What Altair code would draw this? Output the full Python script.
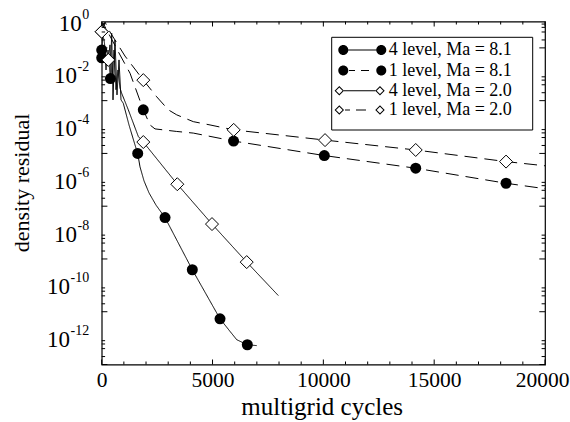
import altair as alt
import pandas as pd

FONT = "Liberation Serif"

series_names = ["4 level, Ma = 8.1", "1 level, Ma = 8.1", "4 level, Ma = 2.0", "1 level, Ma = 2.0"]

# ---- traced curves (cycles, density residual) ----
l4_81_cycles = [0, 104, 194, 284, 392, 451, 510, 600, 690, 781, 871, 975, 1232, 1502, 1624, 1728,
                1909, 2134, 2450, 2857, 4088, 5338, 5789, 6092, 6570, 6993]
l4_81_resid = [4.2e-2, 1.3e-1, 1.45e-2, 8.3e-2, 6.9e-3, 3.6e-1, 1.07e-3, 2.0e-1, 1.66e-3, 3.5e-2,
               1.07e-3, 7.9e-4, 1.2e-4, 2.1e-5, 1.0e-5, 3.1e-6, 9.1e-7, 3.2e-7, 1.1e-7, 3.7e-8,
               3.9e-10, 5.4e-12, 1.8e-12, 8.7e-13, 5.6e-13, 5.2e-13]

l1_81_cycles = [0, 59, 374, 826, 1277, 1877, 2179, 2405, 3384, 4133, 5950, 10044, 14167, 18242, 20000]
l1_81_resid = [8.3e-2, 8.7e-1, 2.8e-1, 5.4e-2, 1.1e-2, 4.5e-4, 1.2e-4, 8.5e-5, 6.8e-5, 5.9e-5,
               2.95e-5, 8.3e-6, 2.75e-6, 7.4e-7, 4.6e-7]

l4_20_cycles = [0, 104, 194, 298, 374, 465, 555, 645, 735, 826, 902, 1200, 1651, 1877, 3411, 4977,
                6542, 7968]
l4_20_resid = [4.1e-1, 2.0e-1, 5.4e-2, 3.5e-2, 1.3e-1, 6.0e-3, 8.3e-2, 2.6e-3, 1.45e-2, 3.0e-3,
               1.9e-3, 4.5e-4, 4.4e-5, 2.7e-5, 6.8e-7, 2.1e-8, 7.6e-10, 4.1e-11]

l1_20_cycles = [0, 149, 374, 1051, 1877, 2482, 3005, 3384, 4133, 4887, 5955, 10076, 14167, 18242, 20000]
l1_20_resid = [4.1e-1, 9.5e-1, 4.0e-1, 4.9e-2, 6.0e-3, 1.4e-3, 4.5e-4, 2.9e-4, 1.6e-4, 1.2e-4,
               7.8e-5, 3.2e-5, 1.35e-5, 4.9e-6, 3.4e-6]

# ---- markers ----
m4_81_cycles = [0, 392, 1624, 2857, 4088, 5338, 6570]
m4_81_resid = [4.2e-2, 6.9e-3, 1.0e-5, 3.7e-8, 3.9e-10, 5.4e-12, 5.6e-13]
m1_81_cycles = [0, 1877, 5950, 10044, 14167, 18242]
m1_81_resid = [8.3e-2, 4.5e-4, 2.95e-5, 8.3e-6, 2.75e-6, 7.4e-7]
m4_20_cycles = [0, 298, 1877, 3411, 4977, 6542]
m4_20_resid = [4.1e-1, 3.5e-2, 2.7e-5, 6.8e-7, 2.1e-8, 7.6e-10]
m1_20_cycles = [0, 1877, 5955, 10076, 14167, 18242]
m1_20_resid = [4.1e-1, 6.0e-3, 7.8e-5, 3.2e-5, 1.35e-5, 4.9e-6]

# ---- axis ticks / labels ----
x_label_values = [0, 5000, 10000, 15000, 20000]
x_major_ticks = [0, 5000, 10000, 15000, 20000]
x_minor_ticks = [1000, 2000, 3000, 4000, 6000, 7000, 8000, 9000, 11000, 12000, 13000, 14000,
                 16000, 17000, 18000, 19000]
y_label_values = [1, 1e-2, 1e-4, 1e-6, 1e-8, 1e-10, 1e-12]
y_label_exps = ["0", "-2", "-4", "-6", "-8", "-10", "-12"]
y_major_ticks = [1e-1, 1e-3, 1e-5, 1e-7, 1e-9, 1e-11, 1e-13]
y_minor_ticks = [m * t for t in y_major_ticks for m in (2, 4, 6, 8)]

W, H = 443.3, 343.0
TICK_FS, EXP_FS = 21.5, 14

# ---- tables ----
trace_sets = [(l4_81_cycles, l4_81_resid), (l1_81_cycles, l1_81_resid),
              (l4_20_cycles, l4_20_resid), (l1_20_cycles, l1_20_resid)]
rows = []
for name, (cx, ry) in zip(series_names, trace_sets):
    for i, (c, r) in enumerate(zip(cx, ry)):
        rows.append({"series": name, "cycles": c, "residual": r, "idx": i})
lines_df = pd.DataFrame(rows)

circ_df = pd.DataFrame({"cycles": m4_81_cycles + m1_81_cycles, "residual": m4_81_resid + m1_81_resid})
diam_df = pd.DataFrame({"cycles": m4_20_cycles + m1_20_cycles, "residual": m4_20_resid + m1_20_resid})

x_scale = alt.Scale(domain=[0, 20000], nice=False, zero=False)
y_scale = alt.Scale(type="log", domain=[1e-13, 1], nice=False)

x_axis = alt.Axis(values=x_label_values, format="d", title="multigrid cycles", ticks=False, tickSize=0,
                  domain=False, grid=False, labelFont=FONT, labelFontSize=TICK_FS, labelPadding=5,
                  labelColor="black", labelFlush=False, labelOverlap=False,
                  labelOffset={"condition": {"test": "datum.value == 20000", "value": -3}, "value": 0},
                  titleFont=FONT, titleFontSize=25, titleFontWeight="normal", titleColor="black",
                  titleX=220, titleY=42, titleBaseline="middle")
y_axis = alt.Axis(values=y_label_values, labels=False, title="density residual", ticks=False,
                  tickSize=0, domain=False, grid=False,
                  titleFont=FONT, titleFontSize=22, titleFontWeight="normal", titleColor="black",
                  titleX=-80, titleY=161, titleBaseline="middle", titleAngle=270)

X = alt.X("cycles:Q", scale=x_scale, axis=x_axis)
Y = alt.Y("residual:Q", scale=y_scale, axis=y_axis)

DASH = [13, 7]
lines = alt.Chart(lines_df).mark_line(color="black", strokeWidth=1, clip=True).encode(
    x=X, y=Y, detail="series:N", order="idx:Q",
    strokeDash=alt.StrokeDash("series:N", legend=None,
                              scale=alt.Scale(domain=series_names,
                                              range=[[1, 0], DASH, [1, 0], DASH])),
)

circles = alt.Chart(circ_df).mark_point(shape="circle", filled=True, color="black", size=121,
                                        opacity=1).encode(x=X, y=Y)
diamonds = alt.Chart(diam_df).mark_point(shape="diamond", filled=True, fill="white", stroke="black",
                                         strokeWidth=1, size=169, opacity=1).encode(x=X, y=Y)

# ---- inward ticks ----
def yticks(vals, x0, x1):
    return alt.Chart(pd.DataFrame({"residual": vals})).mark_rule(color="black", strokeWidth=1).encode(
        y=Y, x=alt.value(x0), x2=alt.value(x1))

def xticks(vals, y0, y1):
    return alt.Chart(pd.DataFrame({"cycles": vals})).mark_rule(color="black", strokeWidth=1).encode(
        x=X, y=alt.value(y0), y2=alt.value(y1))

tick_layers = [
    yticks(y_major_ticks, 0, 5.7), yticks(y_minor_ticks, 0, 3.4),
    yticks(y_major_ticks, W, W - 5.7), yticks(y_minor_ticks, W, W - 3.4),
    xticks(x_major_ticks, H, H - 5), xticks(x_minor_ticks, H, H - 3),
    xticks(x_major_ticks, 0, 5), xticks(x_minor_ticks, 0, 3),
]

# ---- y tick labels: "10" with raised exponent, right-aligned as a unit ----
def exp_width(s):
    return sum(0.333 if ch == "-" else 0.5 for ch in s) * EXP_FS

label_layers = []
for n in sorted(set(len(e) for e in y_label_exps)):
    grp_vals = [v for v, e in zip(y_label_values, y_label_exps) if len(e) == n]
    grp_exps = [e for e in y_label_exps if len(e) == n]
    w = exp_width(grp_exps[0])
    df = pd.DataFrame({"residual": grp_vals, "exp": grp_exps, "base": ["10"] * len(grp_vals)})
    xr = -13 - w
    label_layers.append(alt.Chart(df).mark_text(align="right", baseline="middle", font=FONT,
                                                fontSize=23, color="black", dy=2).encode(
        y=Y, x=alt.value(xr), text="base:N"))
    label_layers.append(alt.Chart(df).mark_text(align="left", baseline="middle", font=FONT,
                                                fontSize=EXP_FS, color="black", dx=0.5, dy=-7).encode(
        y=Y, x=alt.value(xr), text="exp:N"))

# ---- legend: framed box, glyph (marker - line - marker) + label per row ----
T = 0.0625  # half line thickness (1 unit = 8 px at size 256)

def circ(cx, r=0.625):
    return f"M{cx - r:.4f},0A{r},{r} 0 1,1 {cx + r:.4f},0A{r},{r} 0 1,1 {cx - r:.4f},0Z"

def ring(cx, h=0.59, hi=0.413):
    return (f"M{cx - h:.4f},0L{cx:.4f},{-h}L{cx + h:.4f},0L{cx:.4f},{h}Z"
            f"M{cx - hi:.4f},0L{cx:.4f},{hi}L{cx + hi:.4f},0L{cx:.4f},{-hi}Z")

def bar(x0, x1):
    return f"M{x0:.4f},{-T}L{x1:.4f},{-T}L{x1:.4f},{T}L{x0:.4f},{T}Z"

glyphs = [
    circ(-0.175) + circ(4.575) + bar(0.45, 3.95),
    circ(-0.175) + circ(4.575) + bar(0.54, 1.29) + bar(2.04, 3.04),
    ring(-0.675) + ring(4.41) + bar(-0.09, 3.83),
    ring(-0.675) + ring(4.41) + bar(0.04, 0.66) + bar(1.41, 2.66),
]

LEG_X0, LEG_X1, LEG_Y0, LEG_Y1 = 230, 431, 15.8, 108.5
ROW_Y = [28.5, 49.0, 69.3, 88.5]
GLYPH_X, TEXT_X = 243, 287

one = pd.DataFrame({"k": [0]})
legend_layers = [alt.Chart(one).mark_rect(fill="white", stroke="black", strokeWidth=1).encode(
    x=alt.value(LEG_X0), x2=alt.value(LEG_X1), y=alt.value(LEG_Y0), y2=alt.value(LEG_Y1))]
for name, g, ry in zip(series_names, glyphs, ROW_Y):
    row = pd.DataFrame({"label": [name]})
    legend_layers.append(alt.Chart(row).mark_point(shape=g, filled=True, color="black", size=256,
                                                   opacity=1).encode(
        x=alt.value(GLYPH_X), y=alt.value(ry)))
    legend_layers.append(alt.Chart(row).mark_text(align="left", baseline="middle", font=FONT,
                                                  fontSize=18, color="black").encode(
        x=alt.value(TEXT_X), y=alt.value(ry), text="label:N"))

chart = alt.layer(lines, circles, diamonds, *tick_layers, *label_layers, *legend_layers).properties(
    width=W, height=H,
    autosize=alt.AutoSizeParams(type="none"),
    padding={"left": 101.7, "top": 21.5, "right": 25, "bottom": 57.5},
    background="white",
).configure_view(stroke="black", strokeWidth=1.2)

chart.save("out.html", embed_options={"renderer": "svg", "actions": False})
